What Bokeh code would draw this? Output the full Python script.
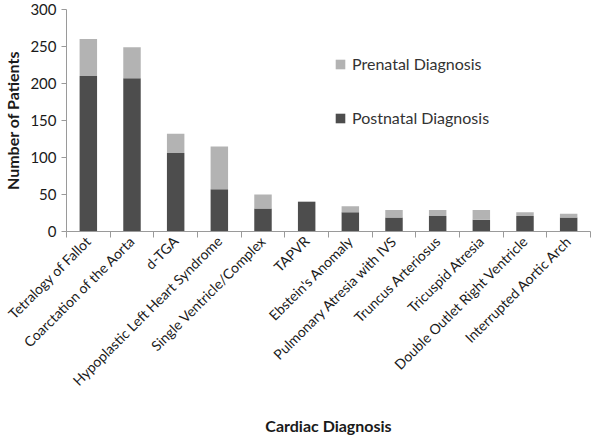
import math
from bokeh.plotting import figure
from bokeh.models import ColumnDataSource, Legend, LegendItem, FixedTicker, Range1d
from bokeh.embed import file_html
from bokeh.resources import INLINE

categories = ["Tetralogy of Fallot", "Coarctation of the Aorta", "d-TGA",
              "Hypoplastic Left Heart Syndrome", "Single Ventricle/Complex", "TAPVR",
              "Ebstein's Anomaly", "Pulmonary Atresia with IVS", "Truncus Arteriosus",
              "Tricuspid Atresia", "Double Outlet Right Ventricle", "Interrupted Aortic Arch"]
postnatal = [210, 207, 106, 57, 31, 40, 26, 19, 21, 16, 21, 19]
prenatal = [50, 42, 26, 58, 19, 1, 8, 10, 8, 13, 5, 5]
y_ticks = [0, 50, 100, 150, 200, 250, 300]

n = len(categories)
xs = [i + 0.5 for i in range(n)]
src = ColumnDataSource(dict(x=xs, post=postnatal, pre=prenatal,
                            total=[a + b for a, b in zip(postnatal, prenatal)]))

FONT = "Lato"
POST_C = "#4d4d4d"
PRE_C = "#b3b3b3"
TXT = "#1a1a1a"

p = figure(width=592, height=437, output_backend="svg", toolbar_location=None,
           x_range=Range1d(0, n), y_range=Range1d(0, 300),
           min_border_left=2, min_border_right=2, min_border_top=9, min_border_bottom=2)
p.outline_line_color = None
p.xgrid.grid_line_color = None
p.ygrid.grid_line_color = None

r_post = p.vbar(x="x", bottom=0, top="post", width=0.4, source=src, color=POST_C, line_color=None)
r_pre = p.vbar(x="x", bottom="post", top="total", width=0.4, source=src, color=PRE_C, line_color=None)

# y axis
p.yaxis.ticker = FixedTicker(ticks=y_ticks)
p.yaxis.axis_label = "Number of Patients"
p.yaxis.axis_label_text_font = FONT
p.yaxis.axis_label_text_font_style = "bold"
p.yaxis.axis_label_text_font_size = "16px"
p.yaxis.axis_label_text_color = TXT
p.yaxis.axis_label_standoff = 5
p.yaxis.major_label_text_font = FONT
p.yaxis.major_label_text_font_size = "15px"
p.yaxis.major_label_text_color = TXT
p.yaxis.major_label_standoff = 5
p.yaxis.axis_line_color = "#9a9a9a"
p.yaxis.major_tick_line_color = "#9a9a9a"
p.yaxis.major_tick_in = 0
p.yaxis.major_tick_out = 5
p.yaxis.minor_tick_line_color = None

# x axis
p.xaxis.ticker = FixedTicker(ticks=xs, minor_ticks=list(range(n + 1)))
p.xaxis.major_label_overrides = {x: c for x, c in zip(xs, categories)}
p.xaxis.major_label_orientation = math.pi / 4
p.xaxis.major_label_text_font = FONT
p.xaxis.major_label_text_font_size = "14px"
p.xaxis.major_label_text_color = TXT
p.xaxis.major_label_standoff = 1
p.xaxis.major_tick_line_color = None
p.xaxis.minor_tick_line_color = "#9a9a9a"
p.xaxis.minor_tick_in = 0
p.xaxis.minor_tick_out = 6
p.xaxis.axis_line_color = "#9a9a9a"
p.xaxis.axis_label = "Cardiac Diagnosis"
p.xaxis.axis_label_text_font = FONT
p.xaxis.axis_label_text_font_style = "bold"
p.xaxis.axis_label_text_font_size = "16px"
p.xaxis.axis_label_text_color = TXT
p.xaxis.axis_label_standoff = 18

legend = Legend(items=[LegendItem(label="Prenatal Diagnosis", renderers=[r_pre]),
                       LegendItem(label="Postnatal Diagnosis", renderers=[r_post])],
                location=(268, 104))
legend.border_line_color = None
legend.background_fill_alpha = 0
legend.label_text_font = FONT
legend.label_text_font_size = "16px"
legend.label_text_color = "#333333"
legend.glyph_width = 12
legend.glyph_height = 12
legend.spacing = 35
legend.label_standoff = 6
p.add_layout(legend, "center")

open("out.html", "w").write(file_html(p, INLINE))
